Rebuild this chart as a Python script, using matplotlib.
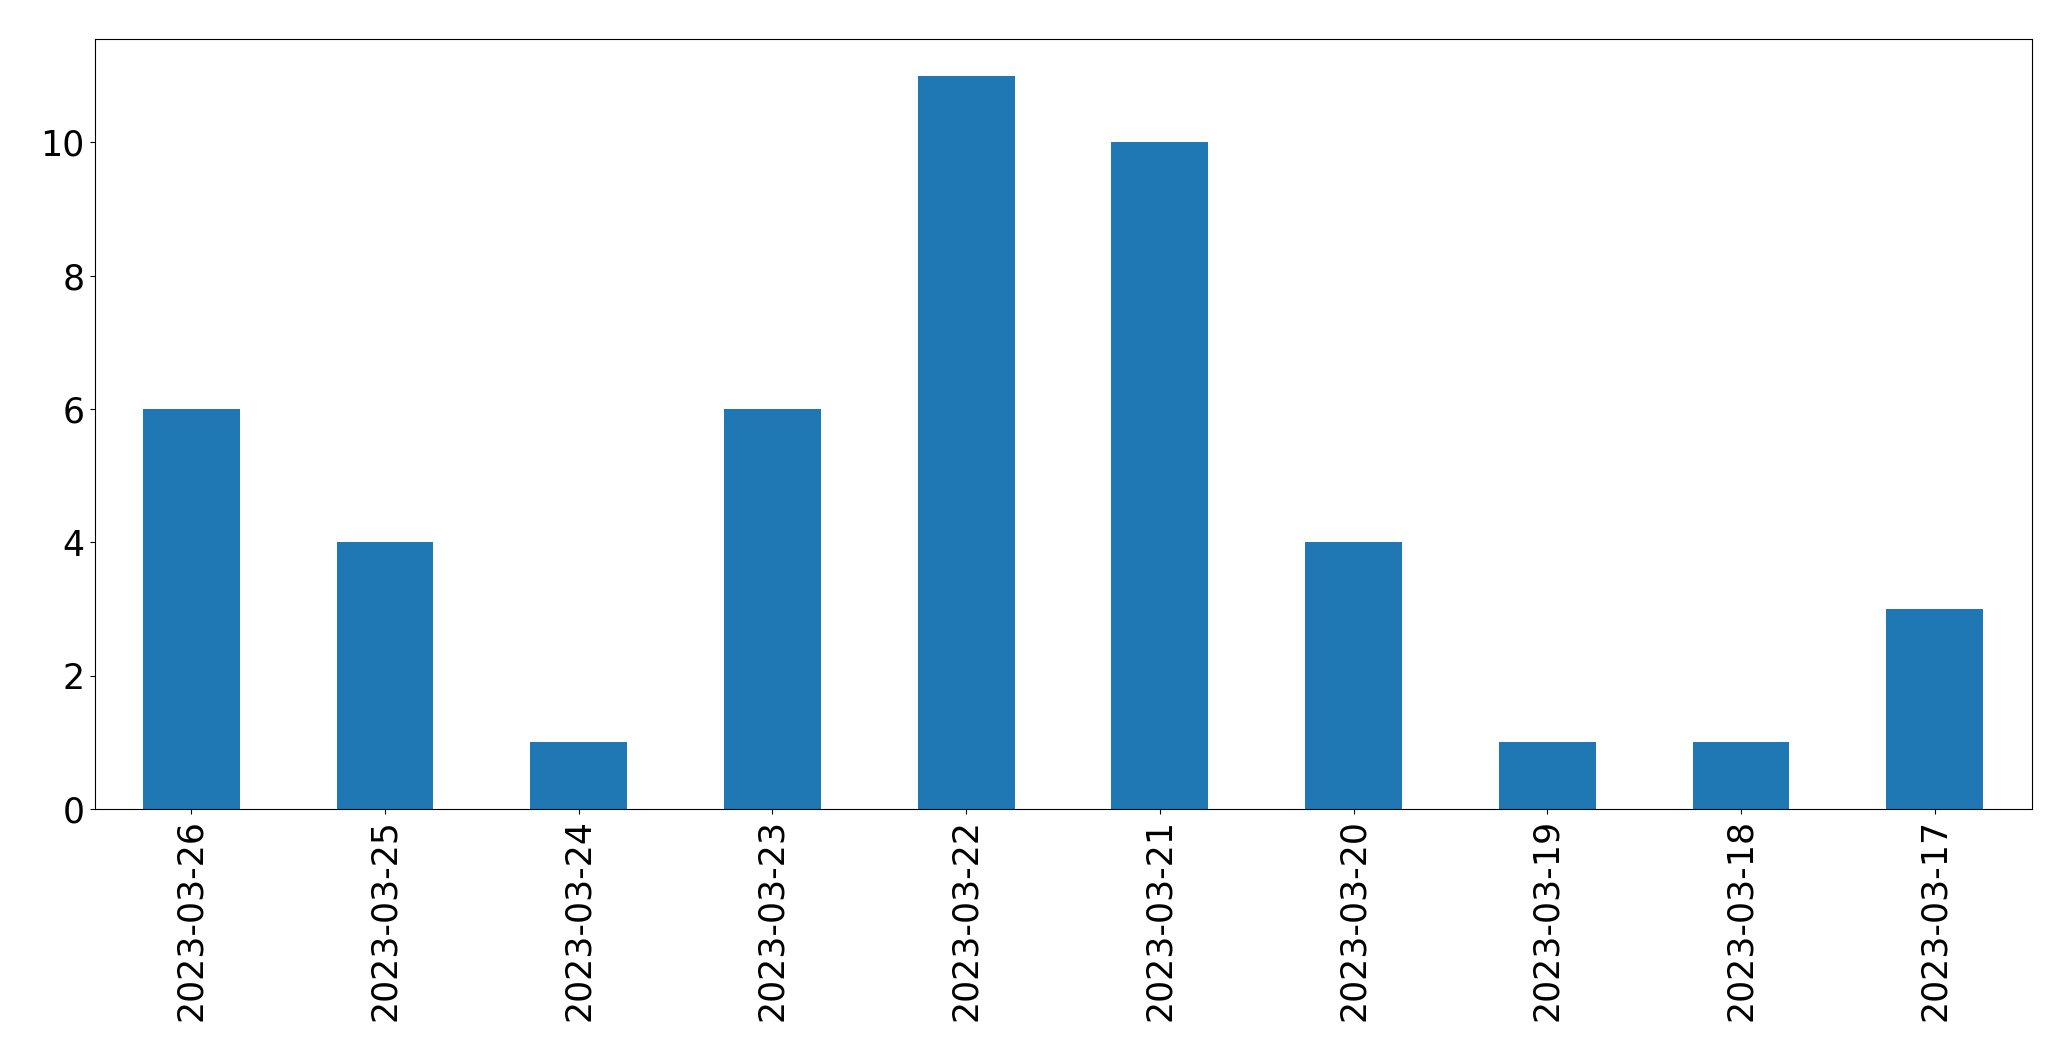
import matplotlib
matplotlib.use("Agg")
import matplotlib.pyplot as plt

dates = ["2023-03-26", "2023-03-25", "2023-03-24", "2023-03-23", "2023-03-22",
         "2023-03-21", "2023-03-20", "2023-03-19", "2023-03-18", "2023-03-17"]
counts = [6, 4, 1, 6, 11, 10, 4, 1, 1, 3]

fig = plt.figure(figsize=(20.71, 10.61), dpi=100)
ax = fig.add_axes([94.5/2071, 1 - 809/1061, (2031.5 - 94.5)/2071, (809 - 39)/1061])
x = list(range(len(dates)))
ax.bar(x, counts, width=0.5, color="#1f77b4")
ax.set_xlim(-0.5, len(dates) - 0.5)
ax.set_ylim(0, max(counts) * 1.05)
ax.set_xticks(x)
ax.set_xticklabels(dates, rotation=90)
ax.set_yticks([0, 2, 4, 6, 8, 10])
ax.tick_params(labelsize=25)
fig.savefig("out.png", dpi=100)
